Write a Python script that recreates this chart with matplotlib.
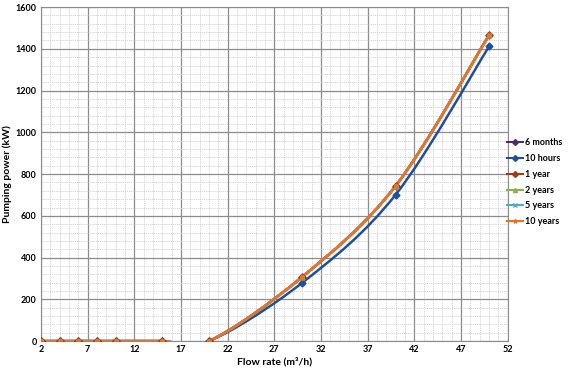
import matplotlib.pyplot as plt
import numpy as np
from matplotlib.path import Path
from matplotlib.patches import PathPatch
from matplotlib.ticker import MultipleLocator, FixedLocator

plt.rcParams['font.family'] = ['Lato', 'DejaVu Sans']

flow = [2, 4, 6, 8, 10, 15, 20, 30, 40, 50]
power_6months = [0, 0, 0, 0, 0, 0, 0, 308, 744, 1466]
power_10hours = [0, 0, 0, 0, 0, 0, 0, 280, 702, 1412]
power_1year = [0, 0, 0, 0, 0, 0, 0, 308, 744, 1466]
power_2years = [0, 0, 0, 0, 0, 0, 0, 308, 744, 1466]
power_5years = [0, 0, 0, 0, 0, 0, 0, 308, 744, 1466]
power_10years = [0, 0, 0, 0, 0, 0, 0, 309, 745, 1467]
xticks = [2, 7, 12, 17, 22, 27, 32, 37, 42, 47, 52]

labels = ['6 months', '10 hours', '1 year', '2 years', '5 years', '10 years']
colors = ['#4b2c6f', '#1f4e9a', '#a33a14', '#8db04a', '#4bacc6', '#f07020']
markers = ['D', 'D', 'D', '^', 'x', '*']
series = [power_6months, power_10hours, power_1year, power_2years, power_5years, power_10years]


def smooth_path(x, y):
    # Catmull-Rom style curve as cubic beziers, like Excel's smoothed lines
    x = np.asarray(x, float)
    y = np.asarray(y, float)
    verts = [(x[0], y[0])]
    codes = [Path.MOVETO]
    n = len(x)
    for i in range(n - 1):
        x0, y0 = (x[i - 1], y[i - 1]) if i > 0 else (x[i], y[i])
        x3, y3 = (x[i + 2], y[i + 2]) if i + 2 < n else (x[i + 1], y[i + 1])
        c1 = (x[i] + (x[i + 1] - x0) / 6, y[i] + (y[i + 1] - y0) / 6)
        c2 = (x[i + 1] - (x3 - x[i]) / 6, y[i + 1] - (y3 - y[i]) / 6)
        verts += [c1, c2, (x[i + 1], y[i + 1])]
        codes += [Path.CURVE4] * 3
    return Path(verts, codes)


fig = plt.figure(figsize=(5.68, 3.72), dpi=100)
ax = fig.add_axes([0.072, 0.083, 0.822, 0.898])

for vals, lab, col, mk in zip(series, labels, colors, markers):
    ax.add_patch(PathPatch(smooth_path(flow, vals), facecolor='none',
                           edgecolor=col, lw=1.8, zorder=3))
    ax.plot(flow, vals, linestyle='none', marker=mk, color=col,
            markersize=3.5, zorder=4)
    ax.plot([], [], color=col, marker=mk, markersize=3, lw=1.5, label=lab)

ax.set_xlim(2, 52)
ax.set_ylim(0, 1600)
ax.xaxis.set_major_locator(FixedLocator(xticks))
ax.xaxis.set_minor_locator(MultipleLocator(1))
ax.yaxis.set_major_locator(MultipleLocator(200))
ax.yaxis.set_minor_locator(MultipleLocator(40))
ax.grid(which='major', color='#8c8c8c', lw=0.9)
ax.grid(which='minor', color='#d0d0d0', lw=0.6, linestyle=(0, (1.5, 1)))
ax.set_axisbelow(True)
ax.tick_params(which='both', length=0, labelsize=6.5, pad=3)
for t in ax.get_xticklabels() + ax.get_yticklabels():
    t.set_fontweight('bold')
for s in ax.spines.values():
    s.set_color('#8c8c8c')

ax.set_xlabel('Flow rate (m³/h)', fontsize=7.5, fontweight='bold', labelpad=2)
ax.set_ylabel('Pumping power (kW)', fontsize=7.5, fontweight='bold', labelpad=3)

fig.legend(loc='center left', bbox_to_anchor=(0.893, 0.51), frameon=False,
           handlelength=1.8, handletextpad=0.2, labelspacing=0.75,
           borderpad=0, borderaxespad=0,
           prop={'weight': 'bold', 'size': 6.5})

fig.savefig('out.png', dpi=100)
